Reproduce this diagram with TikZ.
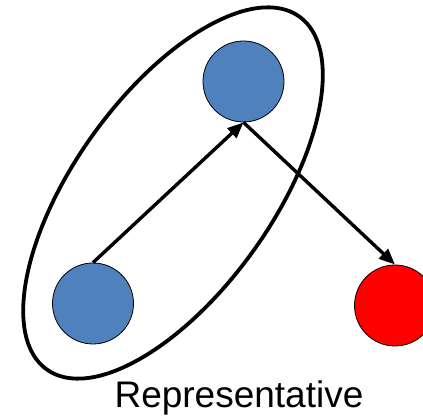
\documentclass[tikz,border=0pt]{standalone}
\usepackage{fontspec}
\setmainfont{Liberation Sans}
\usetikzlibrary{arrows.meta}
\definecolor{nodeblue}{HTML}{4F81BD}
\begin{document}
\begin{tikzpicture}[x=1pt,y=-1pt,
  dot/.style={circle,draw=black,line width=0.8pt,minimum size=81pt,inner sep=0pt},
  conn/.style={line width=3.4pt,-{Triangle[length=16pt,width=13pt]}},
  group/.style={line width=3.8pt}]
\useasboundingbox (0,0) rectangle (423,419);
\draw[group] (173,193) ellipse[x radius=217, y radius=99, rotate=54.4];
\node[dot,fill=nodeblue] (a) at (93,303.5) {};
\node[dot,fill=nodeblue] (b) at (243.5,81.5) {};
\node[dot,fill=red] (c) at (395,305.5) {};
\draw[conn] (a.north) -- (b.south);
\draw[conn] (b.south) -- (c.north);
\node[font=\fontsize{37}{42}\selectfont,anchor=base] (t) at (239,408) {Representative};
\end{tikzpicture}
\end{document}
